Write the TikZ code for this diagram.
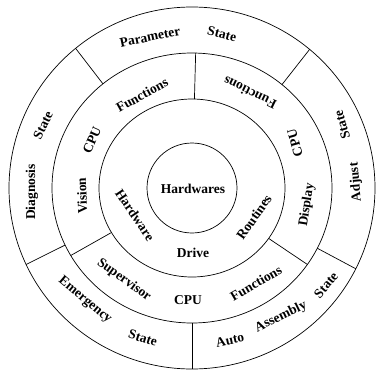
\documentclass[tikz,border=0pt]{standalone}
\usepackage{fontspec}
\setmainfont{Liberation Serif}
\begin{document}
\begin{tikzpicture}[x=1pt,y=1pt,
  ring/.style={draw=black,line width=0.7pt},
  divider/.style={draw=black,line width=0.7pt},
  lbl/.style={inner sep=0pt,font=\fontsize{13.5}{16}\selectfont\bfseries}]
\useasboundingbox (-192,-182) rectangle (185,188);
% rings
\coordinate (c) at (0,0);
\draw[ring] (c) ellipse [x radius=183,y radius=181];
\draw[ring] (c) ellipse [x radius=140,y radius=135];
\draw[ring] (c) ellipse [x radius=93,y radius=89];
\draw[ring] (c) ellipse [x radius=45,y radius=45];
% divider end points, outer ring
\foreach \n/\a in {p1/129.5,p2/50,p3/-26.5,p4/-90,p5/205}{
  \coordinate (\n i) at ({140*cos(\a)},{135*sin(\a)});
  \coordinate (\n o) at ({183*cos(\a)},{181*sin(\a)});
}
% divider end points, middle ring
\foreach \n/\a in {q1/88.5,q2/210,q3/-34.5}{
  \coordinate (\n i) at ({93*cos(\a)},{89*sin(\a)});
  \coordinate (\n o) at ({140*cos(\a)},{135*sin(\a)});
}
\foreach \n in {p1,p2,p3,p4,p5,q1,q2,q3}{
  \draw[divider] (\n i) -- (\n o);
}
% outer ring labels
\node[lbl,rotate=12]  (parameter) at (-42,151) {Parameter};
\node[lbl,rotate=-14] (statetop)  at (30,154)  {State};
\node[lbl,rotate=106] (stateright) at (150,63) {State};
\node[lbl,rotate=95]  (adjust)    at (164,6)   {Adjust};
\node[lbl,rotate=90]  (diagnosis) at (-160,-4) {Diagnosis};
\node[lbl,rotate=64]  (stateleft) at (-149,63) {State};
\node[lbl,rotate=-40] (emergency) at (-107,-112) {Emergency};
\node[lbl,rotate=-17] (statebl)   at (-49,-150) {State};
\node[lbl,rotate=12]  (auto)      at (38,-152) {Auto};
\node[lbl,rotate=26]  (assembly)  at (89,-129) {Assembly};
\node[lbl,rotate=50]  (statebr)   at (134,-97) {State};
% middle ring labels
\node[lbl,rotate=29]  (functl)    at (-50,93)  {Functions};
\node[lbl,rotate=66]  (cpul)      at (-100,48) {CPU};
\node[lbl,rotate=92]  (vision)    at (-110,-8) {Vision};
\node[lbl,rotate=154] (functr)    at (58,95)   {Functions};
\node[lbl,rotate=106] (cpur)      at (103,45)  {CPU};
\node[lbl,rotate=81]  (display)   at (115,-17) {Display};
\node[lbl,rotate=-36] (supervisor) at (-68,-92) {Supervisor};
\node[lbl]            (cpub)      at (-4,-112) {CPU};
\node[lbl,rotate=30]  (funcbr)    at (64,-95)  {Functions};
% inner ring labels
\node[lbl,rotate=-56] (hardware)  at (-57,-27) {Hardware};
\node[lbl]            (drive)     at (1,-65)   {Drive};
\node[lbl,rotate=55]  (routines)  at (62,-29)  {Routines};
% centre
\node[lbl]            (hardwares) at (1,-1)    {Hardwares};
\end{tikzpicture}
\end{document}
